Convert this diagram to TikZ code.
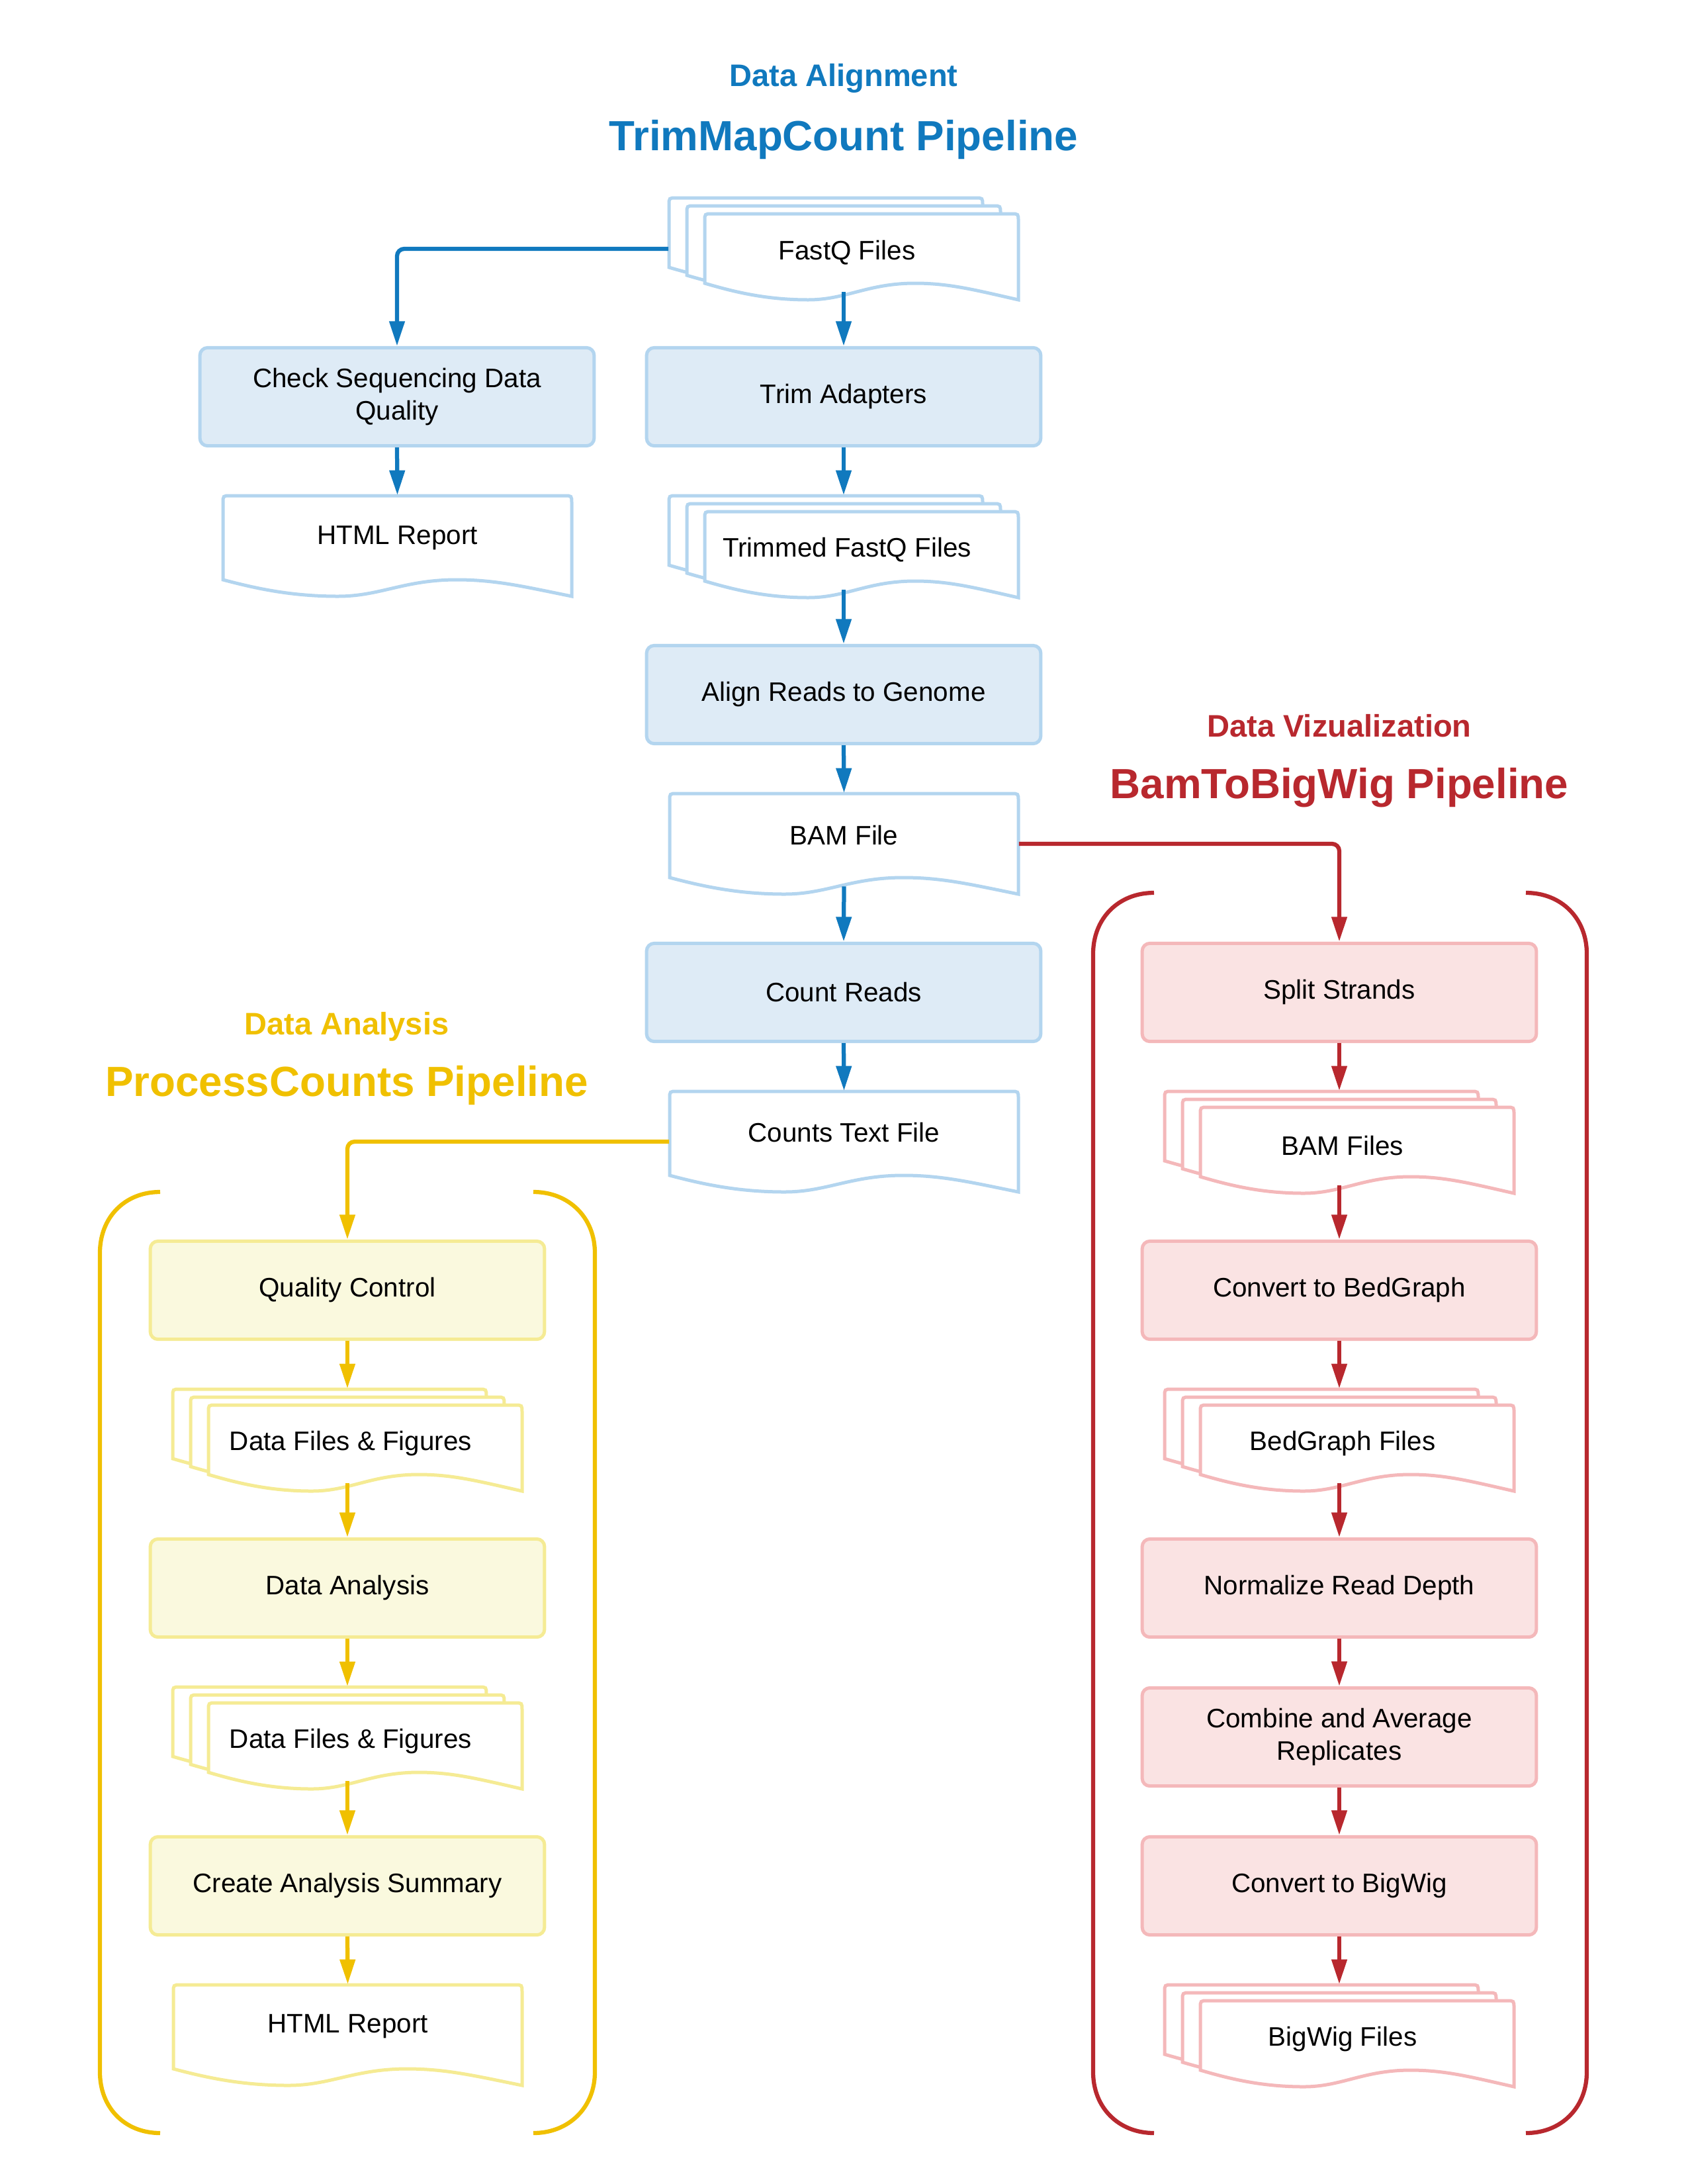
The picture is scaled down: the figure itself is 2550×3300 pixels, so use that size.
\documentclass[tikz,border=0pt]{standalone}
\usepackage{fontspec}
\setmainfont{Liberation Sans}
\usetikzlibrary{arrows.meta}
\definecolor{blueD}{HTML}{1079BE}
\definecolor{blueF}{HTML}{DEEBF6}
\definecolor{blueL}{HTML}{B3D5EF}
\definecolor{redD}{HTML}{B8282E}
\definecolor{redF}{HTML}{FAE3E3}
\definecolor{redL}{HTML}{F4B8BA}
\definecolor{yelD}{HTML}{F0C000}
\definecolor{yelF}{HTML}{FAF9DE}
\definecolor{yelL}{HTML}{F5EB94}
% document shape: #1 X left, #2 Y top, #3 width, #4 height, #5 style (d = 25)
\newcommand\docshape[5]{%
  \filldraw[#5] (#1+#3,#2+#4)
    .. controls (#1+0.86*#3,#2+#4-15) and (#1+0.78*#3,#2+#4-25) .. (#1+0.67*#3,#2+#4-25)
    .. controls (#1+0.52*#3,#2+#4-25) and (#1+0.45*#3,#2+#4) .. (#1+0.33*#3,#2+#4)
    .. controls (#1+0.2*#3,#2+#4) and (#1+0.1*#3,#2+#4-11) .. (#1,#2+#4-25)
    -- (#1,#2+11) .. controls (#1,#2) .. (#1+11,#2)
    -- (#1+#3-11,#2) .. controls (#1+#3,#2) .. (#1+#3,#2+11) -- cycle;}
\newcommand\multidoc[3]{%
  \docshape{#1}{#2}{474}{130}{#3}%
  \docshape{#1+27}{#2+12}{474}{130}{#3}%
  \docshape{#1+54}{#2+24}{474}{130}{#3}}
\begin{document}
\begin{tikzpicture}[x=0.24pt,y=-0.24pt,
  proc/.style={draw, line width=1.2pt, rounded corners=2.8pt, minimum width=143pt,
    minimum height=35.6pt, align=center, inner sep=0pt,
    font=\fontsize{9.7}{11.6}\selectfont},
  bproc/.style={proc, draw=blueL, fill=blueF},
  rproc/.style={proc, draw=redL, fill=redF},
  yproc/.style={proc, draw=yelL, fill=yelF},
  bdoc/.style={draw=blueL, fill=white, line width=1.2pt},
  rdoc/.style={draw=redL, fill=white, line width=1.2pt},
  ydoc/.style={draw=yelL, fill=white, line width=1.2pt},
  frame/.style={inner sep=0pt, minimum width=126.5pt, minimum height=36.5pt},
  mframe/.style={inner sep=0pt, minimum width=126.7pt, minimum height=37pt},
  dtext/.style={inner sep=0pt, align=center, font=\fontsize{9.7}{11.6}\selectfont},
  conn/.style={line width=1.5pt, rounded corners=2.6pt, -{Triangle[length=9pt,width=5.4pt]}},
  bconn/.style={conn, draw=blueD},
  rconn/.style={conn, draw=redD},
  yconn/.style={conn, draw=yelD},
  brack/.style={line width=1.5pt},
  tone/.style={font=\fontsize{11.3}{13}\selectfont\bfseries},
  ttwo/.style={font=\fontsize{15.3}{18}\selectfont\bfseries}]
\useasboundingbox (0,0) rectangle (2550,3300);

% ---------- titles ----------
\node[tone, text=blueD] (ta1) at (1275,118) {Data Alignment};
\node[ttwo, text=blueD] (ta2) at (1275,211) {TrimMapCount Pipeline};
\node[tone, text=redD] (tv1) at (2024,1097) {Data Vizualization};
\node[ttwo, text=redD] (tv2) at (2024,1190) {BamToBigWig Pipeline};
\node[tone, text=yelD] (tp1) at (524,1551) {Data Analysis};
\node[ttwo, text=yelD] (tp2) at (524,1640) {ProcessCounts Pipeline};

% ---------- brackets ----------
\draw[brack, yelD] (242,1801) .. controls (188,1801) and (151,1840) .. (151,1893) -- (151,3131)
  .. controls (151,3184) and (188,3223) .. (242,3223);
\draw[brack, yelD] (806,1801) .. controls (860,1801) and (899,1840) .. (899,1893) -- (899,3131)
  .. controls (899,3184) and (860,3223) .. (806,3223);
\draw[brack, redD] (1744,1349) .. controls (1690,1349) and (1652,1388) .. (1652,1441) -- (1652,3131)
  .. controls (1652,3184) and (1690,3223) .. (1744,3223);
\draw[brack, redD] (2306,1349) .. controls (2360,1349) and (2398,1388) .. (2398,1441) -- (2398,3131)
  .. controls (2398,3184) and (2360,3223) .. (2306,3223);

% ---------- blue column ----------
\multidoc{1011}{299}{bdoc}
\node[mframe] (fastq) at (1275,376) {};
\node[dtext] (fastqT) at (1280,382) {FastQ Files};

\node[bproc] (check) at (600,599.5) {Check Sequencing Data\\Quality};
\node[bproc] (trim) at (1275,599.5) {Trim Adapters};

\docshape{337}{749}{527}{152}{bdoc}
\node[frame] (html1) at (600.5,825) {};
\node[dtext] (html1T) at (600.5,813) {HTML Report};

\multidoc{1011}{749}{bdoc}
\node[mframe] (trimmed) at (1275,826) {};
\node[dtext] (trimmedT) at (1280,831) {Trimmed FastQ Files};

\node[bproc] (align) at (1275,1049.5) {Align Reads to Genome};

\docshape{1012}{1199}{527}{152}{bdoc}
\node[frame] (bam) at (1275.5,1275) {};
\node[dtext] (bamT) at (1275.5,1262) {BAM File};

\node[bproc] (count) at (1275,1499.5) {Count Reads};

\docshape{1012}{1649}{527}{152}{bdoc}
\node[frame] (counts) at (1275.5,1725) {};
\node[dtext] (countsT) at (1275.5,1711) {Counts Text File};

% ---------- red column ----------
\node[rproc] (split) at (2024,1499.5) {Split Strands};
\multidoc{1760}{1649}{rdoc}
\node[mframe] (bams) at (2024,1726) {};
\node[dtext] (bamsT) at (2029,1731) {BAM Files};
\node[rproc] (bedg) at (2024,1949.5) {Convert to BedGraph};
\multidoc{1760}{2099}{rdoc}
\node[mframe] (bedgf) at (2024,2176) {};
\node[dtext] (bedgfT) at (2029,2181) {BedGraph Files};
\node[rproc] (norm) at (2024,2399.5) {Normalize Read Depth};
\node[rproc] (comb) at (2024,2624.5) {Combine and Average\\Replicates};
\node[rproc] (bigw) at (2024,2849.5) {Convert to BigWig};
\multidoc{1760}{2999}{rdoc}
\node[mframe] (bigwf) at (2024,3076) {};
\node[dtext] (bigwfT) at (2029,3081) {BigWig Files};

% ---------- yellow column ----------
\node[yproc] (qc) at (525,1949.5) {Quality Control};
\multidoc{261}{2099}{ydoc}
\node[mframe] (df1) at (525,2176) {};
\node[dtext] (df1T) at (530,2181) {Data Files \& Figures};
\node[yproc] (da) at (525,2399.5) {Data Analysis};
\multidoc{261}{2549}{ydoc}
\node[mframe] (df2) at (525,2626) {};
\node[dtext] (df2T) at (530,2631) {Data Files \& Figures};
\node[yproc] (cas) at (525,2849.5) {Create Analysis Summary};
\docshape{262}{2999}{527}{152}{ydoc}
\node[frame] (html2) at (525.5,3075) {};
\node[dtext] (html2T) at (525.5,3062) {HTML Report};

% ---------- connectors ----------
\draw[bconn] (fastq.west) -| (check.north);
\draw[bconn] ([yshift=3pt]fastq.south) -- (trim.north);
\draw[bconn] (check.south) -- (html1.north);
\draw[bconn] (trim.south) -- (trimmed.north);
\draw[bconn] ([yshift=3pt]trimmed.south) -- (align.north);
\draw[bconn] (align.south) -- (bam.north);
\draw[bconn] ([yshift=3pt]bam.south) -- (count.north);
\draw[bconn] (count.south) -- (counts.north);

\draw[rconn] (bam.east) -| (split.north);
\draw[rconn] (split.south) -- (bams.north);
\draw[rconn] ([yshift=3pt]bams.south) -- (bedg.north);
\draw[rconn] (bedg.south) -- (bedgf.north);
\draw[rconn] ([yshift=3pt]bedgf.south) -- (norm.north);
\draw[rconn] (norm.south) -- (comb.north);
\draw[rconn] (comb.south) -- (bigw.north);
\draw[rconn] (bigw.south) -- (bigwf.north);

\draw[yconn] (counts.west) -| (qc.north);
\draw[yconn] (qc.south) -- (df1.north);
\draw[yconn] ([yshift=3pt]df1.south) -- (da.north);
\draw[yconn] (da.south) -- (df2.north);
\draw[yconn] ([yshift=3pt]df2.south) -- (cas.north);
\draw[yconn] (cas.south) -- (html2.north);
\end{tikzpicture}
\end{document}
